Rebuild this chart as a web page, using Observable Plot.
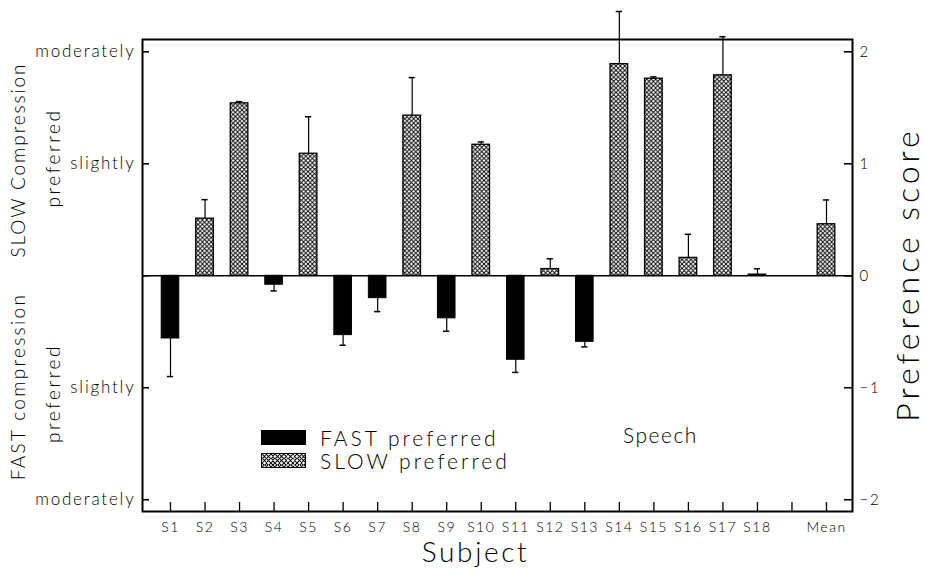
<!DOCTYPE html>
<html>
<head>
<meta charset="utf-8">
<script src="https://cdn.jsdelivr.net/npm/d3@7"></script>
<script src="https://cdn.jsdelivr.net/npm/@observablehq/plot@0.6"></script>
<style>
  body { margin: 0; background: #fff; }
  #wrap { position: relative; width: 925px; height: 574px; font-family: Lato, "DejaVu Sans", sans-serif; font-weight: 300; color: #000; }
  #wrap svg text { font-weight: 300; }
  .legend { position: absolute; left: 261px; top: 426px; font-size: 21px; letter-spacing: 3px; }
  .legend .row { display: flex; align-items: center; height: 23px; }
  .legend .sw { display: inline-block; width: 45px; height: 15px; margin-right: 14px; box-sizing: border-box; }
  .legend .lab { display: inline-block; height: 20px; line-height: 20px; }
  .legend .sw.fast { background: #000; border: 1px solid #000; }
  .legend .sw.slow { border: 1.3px solid #000; background-color: #fff;
    background-image: url("data:image/svg+xml,%3Csvg xmlns='http://www.w3.org/2000/svg' width='4.4' height='4.4'%3E%3Cpath d='M0,0L4.4,4.4M4.4,0L0,4.4' stroke='black' stroke-width='0.9'/%3E%3C/svg%3E");
    background-size: 4.4px 4.4px; }
  .note { position: absolute; left: 623px; top: 425px; font-size: 21px; letter-spacing: 1.5px; height: 20px; line-height: 20px; }
</style>
</head>
<body>
<div id="wrap"></div>
<script>
// ---- data ----
const subjects = ["S1","S2","S3","S4","S5","S6","S7","S8","S9","S10","S11","S12","S13","S14","S15","S16","S17","S18","","Mean"];
const scores   = [-0.56, 0.51, 1.54, -0.08, 1.09, -0.53, -0.20, 1.43, -0.38, 1.17, -0.75, 0.06, -0.59, 1.89, 1.76, 0.16, 1.79, 0.01, null, 0.46];
const errors   = [ 0.34, 0.17, 0.015, 0.055, 0.33, 0.09, 0.12, 0.34, 0.115, 0.025, 0.113, 0.092, 0.045, 0.47, 0.016, 0.21, 0.345, 0.053, null, 0.217];
const yTicks = [-2, -1, 0, 1, 2];
const leftTickLabels = ["moderately", "slightly", "", "slightly", "moderately"];
const legendItems = ["FAST preferred", "SLOW preferred"];
const noteText = "Speech";
const xTitle = "Subject";
const yTitleRight = "Preference score";
const leftTitles = ["SLOW Compression", "preferred", "FAST compression", "preferred"];

const rows = subjects.map((s, k) => ({i: k + 1, s, v: scores[k], e: errors[k]})).filter(d => d.v != null);
const xIdx = subjects.map((s, k) => k + 1);
const end = d => d.v + (d.v < 0 ? -d.e : d.e);

const W = 925, H = 574;
const mL = 142, mR = 73, mT = 39, mB = 63;
const fw = W - mL - mR, fh = H - mT - mB;
const font = "Lato, 'DejaVu Sans', sans-serif";

const titleOpts = (dx, dy, fontSize, rotate = 0, frameAnchor = "left") =>
  ({text: d => d, frameAnchor, dx, dy, fontSize, rotate, textAnchor: "middle", lineAnchor: "middle"});

const chart = Plot.plot({
  width: W, height: H,
  marginLeft: mL, marginRight: mR, marginTop: mT, marginBottom: mB,
  style: {fontFamily: font, background: "#fff", color: "#000", overflow: "visible"},
  x: {type: "linear", domain: [0.189, 20.753], label: null},
  y: {domain: [-2.105, 2.11], label: null},
  marks: [
    // bars
    Plot.rect(rows.filter(d => d.v < 0), {x1: d => d.i - 0.255, x2: d => d.i + 0.255, y1: 0, y2: "v", fill: "#000", stroke: "#000", strokeWidth: 1}),
    Plot.rect(rows.filter(d => d.v >= 0), {x1: d => d.i - 0.255, x2: d => d.i + 0.255, y1: 0, y2: "v", fill: "url(#xhatch)", stroke: "#000", strokeWidth: 1.3}),
    // error bars
    Plot.ruleX(rows, {x: "i", y1: "v", y2: end, stroke: "#000", strokeWidth: 1.2}),
    Plot.ruleY(rows, {y: end, x1: d => d.i - 0.09, x2: d => d.i + 0.09, stroke: "#000", strokeWidth: 1.5}),
    // zero line
    Plot.ruleY([0], {stroke: "#000", strokeWidth: 1.6}),
    // inward ticks
    Plot.tickY(yTicks, {y: d => d, insetRight: fw - 7, stroke: "#000", strokeWidth: 1.6}),
    Plot.tickY(yTicks, {y: d => d, insetLeft: fw - 8, stroke: "#000", strokeWidth: 1.6}),
    Plot.tickX(xIdx, {x: d => d, insetTop: fh - 9, stroke: "#000", strokeWidth: 1.3}),
    // axes labels
    Plot.axisY({anchor: "left", ticks: yTicks, tickSize: 0, tickPadding: 7, fontSize: 17,
      tickFormat: d => leftTickLabels[yTicks.indexOf(d)]}),
    Plot.axisY({anchor: "right", ticks: yTicks, tickSize: 0, tickPadding: 7, fontSize: 15,
      tickFormat: d => d < 0 ? "\u2212" + (-d) : String(d)}),
    Plot.axisX({anchor: "bottom", ticks: xIdx, tickSize: 0, tickPadding: 11, fontSize: 14,
      tickFormat: d => subjects[d - 1] ?? ""}),
    // titles
    Plot.text([xTitle], titleOpts(-22, 42, 28, 0, "bottom")),
    Plot.text([yTitleRight], titleOpts(56, -1, 32, -90, "right")),
    Plot.text([leftTitles[0]], titleOpts(-124, -115.5, 19, -90)),
    Plot.text([leftTitles[1]], titleOpts(-89, -117.5, 19, -90)),
    Plot.text([leftTitles[2]], titleOpts(-124, 111, 19, -90)),
    Plot.text([leftTitles[3]], titleOpts(-89, 118, 19, -90)),
    Plot.frame({stroke: "#000", strokeWidth: 2})
  ]
});

// hatch pattern definition
const defs = d3.select(chart).insert("defs", ":first-child");
const pat = defs.append("pattern").attr("id", "xhatch").attr("patternUnits", "userSpaceOnUse")
  .attr("width", 4.4).attr("height", 4.4);
pat.append("rect").attr("width", 4.4).attr("height", 4.4).attr("fill", "#fff");
pat.append("path").attr("d", "M0,0L4.4,4.4M4.4,0L0,4.4").attr("stroke", "#000").attr("stroke-width", 0.9);

// letter spacing to approximate the wide stroke font of the original
const spacing = {"Subject": 2.6, "Preference score": 4, "SLOW Compression": 1.9, "FAST compression": 2.3, "preferred": 2.6};
const svgSel = d3.select(chart);
svgSel.selectAll('g[aria-label="x-axis tick label"] text').style("letter-spacing", "1.5px");
svgSel.selectAll('g[aria-label="y-axis tick label"] text').style("letter-spacing", "1.8px");
svgSel.selectAll('g[aria-label="text"] text').each(function () {
  const s = spacing[this.textContent];
  if (s) d3.select(this).style("letter-spacing", s + "px");
});

const wrap = d3.select("#wrap");
wrap.node().appendChild(chart);

const leg = wrap.append("div").attr("class", "legend");
legendItems.forEach((name, k) => {
  const row = leg.append("div").attr("class", "row");
  row.append("span").attr("class", "sw " + (k === 0 ? "fast" : "slow"));
  row.append("span").attr("class", "lab").text(name);
});
wrap.append("div").attr("class", "note").text(noteText);
</script>
</body>
</html>
